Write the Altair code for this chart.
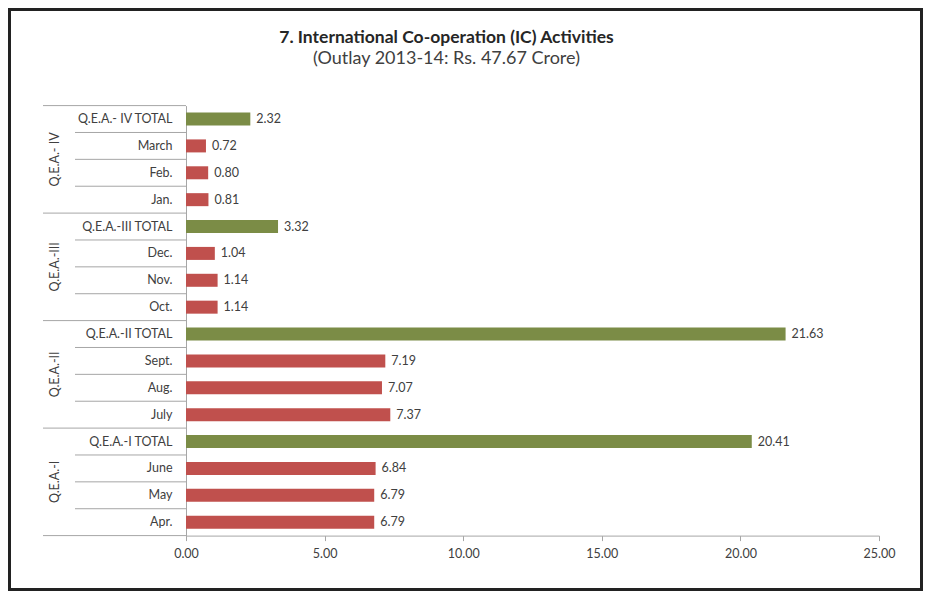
import altair as alt
import pandas as pd

# ---- data (top to bottom as in the chart) ----
groups = ["Q.E.A.- IV", "Q.E.A.-III", "Q.E.A.-II", "Q.E.A.-I"]
rows_by_group = [
    ["Q.E.A.- IV TOTAL", "March", "Feb.", "Jan."],
    ["Q.E.A.-III TOTAL", "Dec.", "Nov.", "Oct."],
    ["Q.E.A.-II TOTAL", "Sept.", "Aug.", "July"],
    ["Q.E.A.-I TOTAL", "June", "May", "Apr."],
]
values_by_group = [
    [2.32, 0.72, 0.80, 0.81],
    [3.32, 1.04, 1.14, 1.14],
    [21.63, 7.19, 7.07, 7.37],
    [20.41, 6.84, 6.79, 6.79],
]

records = []
for g, rows, vals in zip(groups, rows_by_group, values_by_group):
    for i, (r, v) in enumerate(zip(rows, vals)):
        records.append({
            "group": g,
            "label": r,
            "value": v,
            "kind": "total" if "TOTAL" in r else "month",
            "first": i == 0,
        })
df = pd.DataFrame(records)
order = list(df["label"])

grp_df = pd.DataFrame({"group": groups, "anchor": [rows[1] for rows in rows_by_group]})
bottom_df = pd.DataFrame({"label": [order[-1]]})

FONT = "Lato"
TXT = "#404040"
LINE = "#A6A6A6"
FS = 12.5

W, H = 693, 430
PAD = {"left": 178, "top": 97.6, "right": 44, "bottom": 55.4}

yscale = alt.Scale(domain=order, paddingInner=0, paddingOuter=0)
xscale = alt.Scale(domain=[0, 25], nice=False, zero=True)

base = alt.Chart(df)

bars = base.mark_bar(size=13).encode(
    x=alt.X("value:Q",
            scale=xscale,
            axis=alt.Axis(values=[0, 5, 10, 15, 20, 25], format=".2f", title=None,
                          grid=False, domainColor=LINE, tickColor=LINE, tickSize=5,
                          labelPadding=7, labelFont=FONT, labelFontSize=FS,
                          labelColor=TXT, labelFlush=False)),
    y=alt.Y("label:N", sort=order, scale=yscale,
            axis=alt.Axis(title=None, ticks=False, domainColor=LINE,
                          labelPadding=14, labelFont=FONT, labelFontSize=FS,
                          labelColor=TXT, labelLimit=200)),
    color=alt.Color("kind:N",
                    scale=alt.Scale(domain=["month", "total"], range=["#C0504D", "#7B8C46"]),
                    legend=None),
)

vals = base.mark_text(align="left", baseline="middle", dx=6, font=FONT,
                      fontSize=FS, color=TXT).encode(
    x=alt.X("value:Q", scale=xscale),
    y=alt.Y("label:N", sort=order, scale=yscale),
    text=alt.Text("value:Q", format=".2f"),
)

inner_rules = base.transform_filter("!datum.first").mark_rule(color=LINE, strokeWidth=1).encode(
    y=alt.Y("label:N", sort=order, scale=yscale, bandPosition=0),
    x=alt.value(-111), x2=alt.value(0),
)
group_rules = base.transform_filter("datum.first").mark_rule(color=LINE, strokeWidth=1).encode(
    y=alt.Y("label:N", sort=order, scale=yscale, bandPosition=0),
    x=alt.value(-143), x2=alt.value(0),
)
bottom_rule = alt.Chart(bottom_df).mark_rule(color=LINE, strokeWidth=1).encode(
    y=alt.Y("label:N", sort=order, scale=yscale, bandPosition=1),
    x=alt.value(-143), x2=alt.value(0),
)

group_text = alt.Chart(grp_df).mark_text(angle=270, align="center", baseline="middle",
                                         font=FONT, fontSize=FS, color=TXT).encode(
    y=alt.Y("anchor:N", sort=order, scale=yscale, bandPosition=1),
    x=alt.value(-131),
    text="group:N",
)

frame = alt.Chart(alt.Data(values=[{"a": 1}])).mark_rect(
    fill="transparent", stroke="#222222", strokeWidth=3).encode(
    x=alt.value(-176.5), x2=alt.value(735.5),
    y=alt.value(-96.1), y2=alt.value(483.9),
)

chart = alt.layer(
    inner_rules, group_rules, bottom_rule, bars, vals, group_text, frame
).properties(
    width=W, height=H,
    padding=PAD,
    autosize=alt.AutoSizeParams(type="none"),
    background="white",
    title=alt.TitleParams(
        text="7. International  Co-operation (IC) Activities",
        subtitle="(Outlay 2013-14: Rs. 47.67 Crore)",
        font=FONT, fontSize=17.5, fontWeight="bold", color="#262626",
        subtitleFont=FONT, subtitleFontSize=18, subtitleFontWeight="normal",
        subtitleColor=TXT, subtitlePadding=4,
        anchor="middle", frame="group", dx=-86, offset=-60,
    ),
).configure_view(stroke="transparent")

chart.save("out.html", embed_options={"renderer": "svg", "actions": False})
